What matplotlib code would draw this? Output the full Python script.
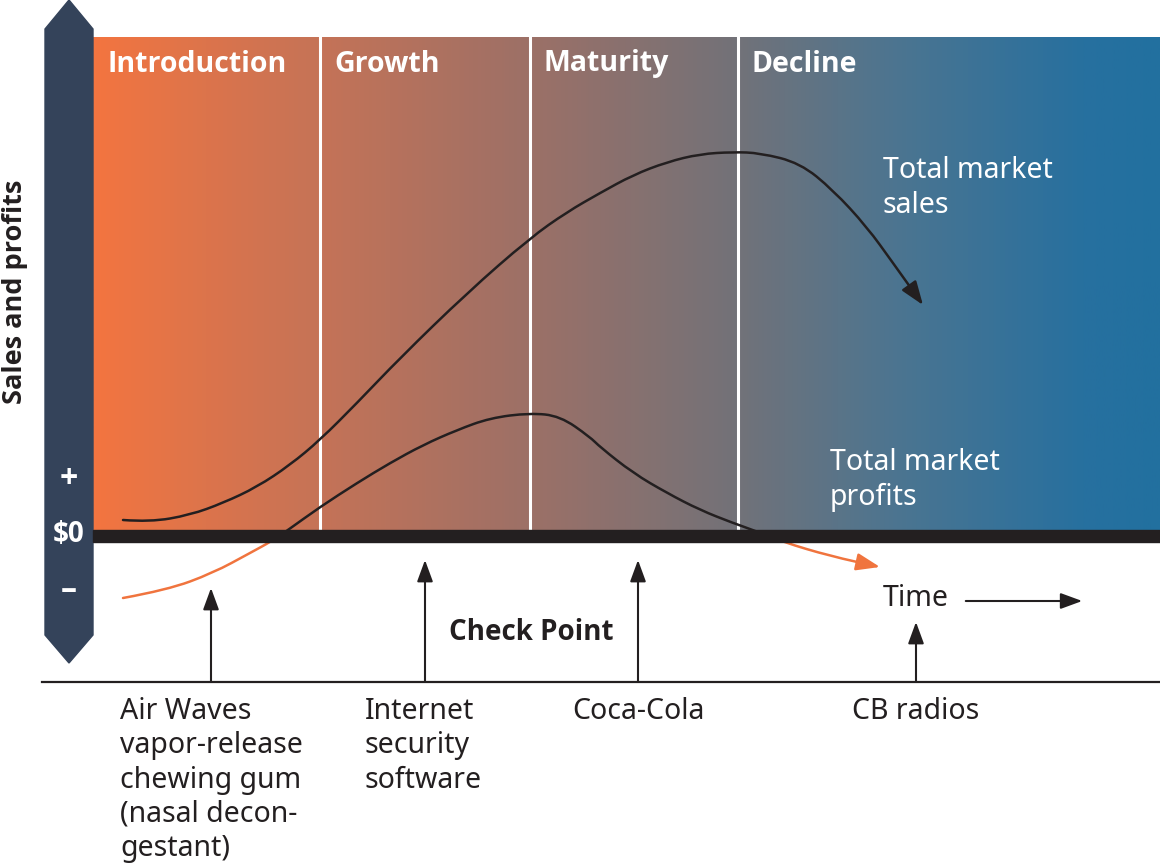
import matplotlib
matplotlib.use("Agg")
import matplotlib.pyplot as plt
import numpy as np
from matplotlib.path import Path
from matplotlib.patches import PathPatch, FancyArrowPatch, Rectangle, Polygon
from matplotlib.colors import LinearSegmentedColormap

plt.rcParams['font.family'] = ['Noto Sans', 'DejaVu Sans']
BOLD = ['Open Sans', 'DejaVu Sans']

# --- data (x = time position, y = value relative to $0) ---
stage_names = ["Introduction", "Growth", "Maturity", "Decline"]
stage_starts = [93, 320, 530, 738]

sales_t = [123, 150, 190, 223, 257, 290, 320, 357, 400, 467, 530, 567, 600,
           633, 667, 700, 733, 760, 800, 833, 867, 893, 923]
sales_v = [16, 14, 21, 33, 49, 71, 96, 133, 178, 243, 298, 324, 343,
           361, 374, 382, 384, 383, 373, 346, 309, 273, 231]

profit_t = [123, 167, 213, 250, 272, 288, 320, 357, 390, 423, 457, 490, 530,
            560, 590, 600, 633, 667, 700, 733, 753, 783, 830, 880]
profit_v = [-62, -54, -37, -17, -5, 6, 29, 53, 73, 91, 106, 118, 123,
            120, 99, 89, 63, 43, 26, 13, 6, -6, -20, -31]

checkpoint_names = ["Air Waves\nvapor-release\nchewing gum\n(nasal decon-\ngestant)",
                    "Internet\nsecurity\nsoftware", "Coca-Cola", "CB radios"]
checkpoint_t = [211, 425, 638, 916]
checkpoint_top = [-52, -24, -24, -86]

orange = "#F0743E"
dark = "#34435A"
ink = "#231F20"
HEAD = "-|>,head_length=0.6,head_width=0.22"


def smooth_path(xs, ys):
    # quadratic bezier through midpoints -> smooth line along the points
    pts = list(zip(xs, ys))
    verts = [pts[0]]
    codes = [Path.MOVETO]
    for i in range(1, len(pts) - 1):
        mid = ((pts[i][0] + pts[i + 1][0]) / 2, (pts[i][1] + pts[i + 1][1]) / 2)
        verts += [pts[i], mid]
        codes += [Path.CURVE3, Path.CURVE3]
    verts.append(pts[-1])
    codes.append(Path.LINETO)
    return Path(verts, codes)


fig = plt.figure(figsize=(11.6, 8.65), dpi=100)
ax = fig.add_axes([0, 0, 1, 1])
ax.set_xlim(0, 1160)
ax.set_ylim(-329, 536)
ax.axis('off')

# gradient background
grad = LinearSegmentedColormap.from_list("plc", [
    (0.0, "#F37540"), (0.21, "#C57357"), (0.41, "#9C7067"),
    (0.60, "#737278"), (0.75, "#4D7590"), (0.93, "#27709F"), (1.0, "#22709F")])
ax.imshow(np.linspace(0, 1, 500)[None, :], cmap=grad, aspect='auto',
          extent=[93, 1160, 0, 499], zorder=0)

for x in stage_starts[1:]:
    ax.plot([x, x], [0, 499], color="white", lw=2.2, zorder=1)
for name, x in zip(stage_names, stage_starts):
    ax.text(x + 14, 472, name, color="white", fontsize=20.5, fontweight="bold",
            family=BOLD, va="center", ha="left", zorder=5)

# left value bar
ax.add_patch(Polygon([(45, 507), (69, 536), (93, 507), (93, -99), (69, -127), (45, -99)],
                     closed=True, color=dark, zorder=3))
ax.text(69, 56, "+", color="white", fontsize=23, fontweight="bold", family=BOLD,
        ha="center", va="center", zorder=4)
ax.text(69, 1, "$0", color="white", fontsize=20, fontweight="bold", family=BOLD,
        ha="center", va="center", zorder=4)
ax.text(69, -54, "–", color="white", fontsize=23, fontweight="bold", family=BOLD,
        ha="center", va="center", zorder=4)
ax.text(15, 244, "Sales and profits", rotation=90, fontsize=19.5, fontweight="bold",
        family=BOLD, ha="center", va="center", color=ink)

# sales curve
sales = FancyArrowPatch(path=smooth_path(sales_t, sales_v), arrowstyle=HEAD,
                        mutation_scale=24, color=ink, lw=1.8, zorder=4)
ax.add_patch(sales)

# profit curve: black above $0, orange below
ppath = smooth_path(profit_t, profit_v)
above = PathPatch(ppath, fill=False, edgecolor=ink, lw=1.8, zorder=4)
ax.add_patch(above)
above.set_clip_path(Rectangle((0, 0), 1160, 600, transform=ax.transData))
below = FancyArrowPatch(path=ppath, arrowstyle=HEAD,
                        mutation_scale=24, color=orange, lw=1.8, zorder=4)
ax.add_patch(below)
below.set_clip_path(Rectangle((0, -400), 1160, 400, transform=ax.transData))

# $0 line
ax.add_patch(Rectangle((93, -6), 1067, 12, color=ink, zorder=5))

ax.text(883, 348, "Total market\nsales", color="white", fontsize=20.5,
        va="center", ha="left", linespacing=1.24, zorder=5)
ax.text(830, 56, "Total market\nprofits", color="white", fontsize=20.5,
        va="center", ha="left", linespacing=1.24, zorder=5)

ax.text(883, -62, "Time", color=ink, fontsize=20.5, va="center", ha="left")
ax.annotate("", xy=(1085, -65), xytext=(963, -65),
            arrowprops=dict(arrowstyle=HEAD, mutation_scale=22, color=ink, lw=1.5))

ax.text(531, -97, "Check Point", color=ink, fontsize=20, fontweight="bold",
        family=BOLD, va="center", ha="center")

# check point baseline and arrows
ax.plot([42, 1160], [-146, -146], color=ink, lw=1.6)
for t, top in zip(checkpoint_t, checkpoint_top):
    ax.annotate("", xy=(t, top), xytext=(t, -146),
                arrowprops=dict(arrowstyle=HEAD, mutation_scale=22, color=ink,
                                lw=1.5, shrinkA=0, shrinkB=0))

label_x = [120, 365, 572, 852]
for x, name in zip(label_x, checkpoint_names):
    ax.text(x, -161, name, color=ink, fontsize=20.5, va="top", ha="left", linespacing=1.24)

fig.savefig("out.png", dpi=100)
